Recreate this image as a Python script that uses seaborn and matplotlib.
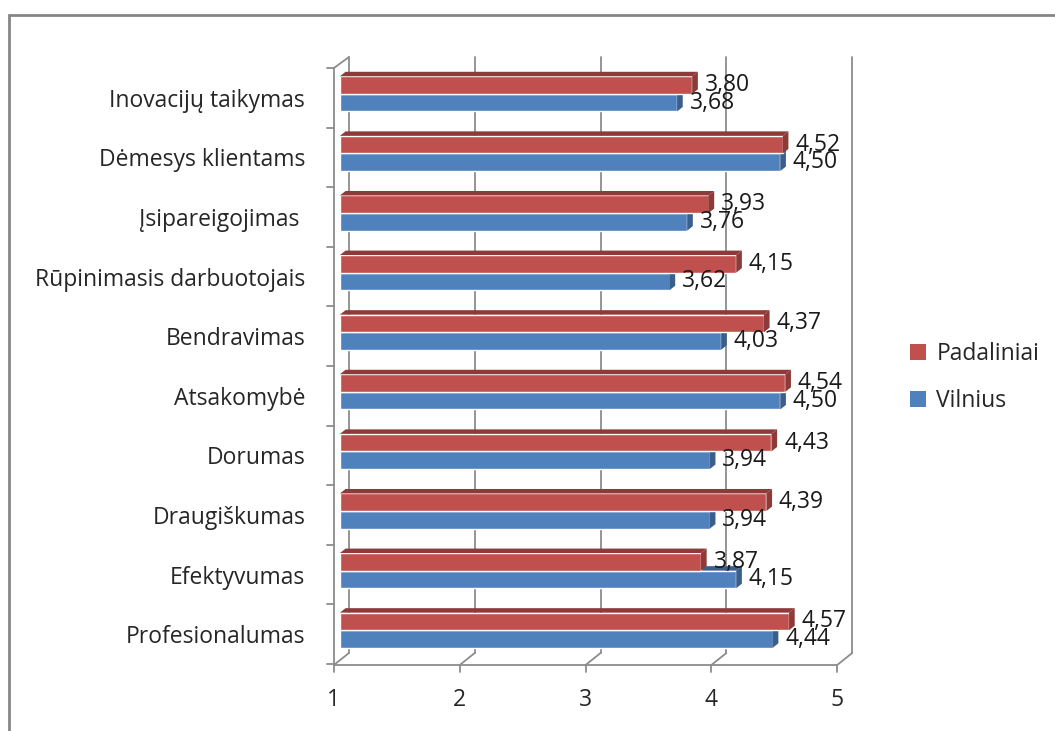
import matplotlib
matplotlib.use("Agg")
import matplotlib.pyplot as plt
import matplotlib.transforms as mtransforms
from matplotlib.patches import Rectangle, Polygon
import seaborn as sns
import pandas as pd
import numpy as np

categories = ["Inovacijų taikymas", "Dėmesys klientams", "Įsipareigojimas ",
              "Rūpinimasis darbuotojais", "Bendravimas", "Atsakomybė",
              "Dorumas", "Draugiškumas", "Efektyvumas", "Profesionalumas"]
padaliniai = [3.80, 4.52, 3.93, 4.15, 4.37, 4.54, 4.43, 4.39, 3.87, 4.57]
vilnius = [3.68, 4.50, 3.76, 3.62, 4.03, 4.50, 3.94, 3.94, 4.15, 4.44]
series = ["Padaliniai", "Vilnius"]
colors = {"Padaliniai": "#C0504D", "Vilnius": "#4F81BD"}
side_colors = {"Padaliniai": "#8E3A38", "Vilnius": "#3A5F8C"}
xticks = [1, 2, 3, 4, 5]

df = pd.DataFrame({
    "kategorija": categories * 2,
    "reiksme": padaliniai + vilnius,
    "grupe": ["Padaliniai"] * len(categories) + ["Vilnius"] * len(categories),
})

sns.set_style("white")
plt.rcParams["font.family"] = ["Open Sans", "DejaVu Sans"]
FS = 16.5
LINE = "#8C8C8C"

fig = plt.figure(figsize=(10.55, 7.31), dpi=100)
ax = fig.add_axes([0.3222, 0.0971, 0.477, 0.8153])

sns.barplot(data=df, y="kategorija", x="reiksme", hue="grupe",
            hue_order=series, order=categories, palette=colors,
            orient="h", width=0.59, saturation=1, ax=ax, legend=False,
            errorbar=None)

ax.set_xlim(1, 5)
ax.set_ylim(len(categories) - 0.5, -0.5)


def shift(px_x, px_y):
    """Offset in pixels (y positive = up)."""
    return mtransforms.ScaledTranslation(px_x / 100, px_y / 100, fig.dpi_scale_trans)


# bar faces: front, top and right-hand side for a shallow depth look
dx = 0.045
dy = 0.075
for grp, container in zip(series, ax.containers):
    z = 3 if grp == "Padaliniai" else 2.5
    for rect in container:
        x1 = rect.get_x() + rect.get_width()
        y0 = rect.get_y()
        h = rect.get_height()
        rect.set_x(1.0)
        rect.set_width(x1 - 1.0)
        rect.set_zorder(z)
        side = Polygon([[x1, y0], [x1 + dx, y0 - dy], [x1 + dx, y0 + h - dy], [x1, y0 + h]],
                       closed=True, facecolor=side_colors[grp], edgecolor="none", zorder=z)
        ax.add_patch(side)
        top = Polygon([[1.0, y0], [1.0 + dx, y0 - dy], [x1 + dx, y0 - dy], [x1, y0]],
                      closed=True, facecolor=side_colors[grp], edgecolor="none", zorder=z)
        ax.add_patch(top)

# value labels with decimal comma
for grp, container, vals in zip(series, ax.containers, [padaliniai, vilnius]):
    for rect, v in zip(container, vals):
        yc = rect.get_y() + rect.get_height() / 2
        ax.text(v + 0.1, yc, f"{v:.2f}".replace(".", ","), fontsize=FS,
                color="#1a1a1a", va="center", ha="left", zorder=5)

# back wall gridlines and floor edges
back = ax.get_xaxis_transform() + shift(9, 7)
front = ax.get_xaxis_transform() + shift(-6, -5)
for t in xticks:
    ax.plot([t, t], [0, 1], transform=back, color=LINE, lw=1.3, zorder=0, clip_on=False)
ax.plot([xticks[0], xticks[-1]], [0, 0], transform=front, color=LINE, lw=1.3,
        zorder=1, clip_on=False)
for t in xticks:
    p0 = front.transform((t, 0))
    p1 = back.transform((t, 0))
    ax.plot([p0[0], p1[0]], [p0[1], p1[1]], transform=None, color=LINE, lw=1.3,
            zorder=1, clip_on=False)
    p2 = (front + shift(0, -7)).transform((t, 0))
    ax.plot([p0[0], p2[0]], [p0[1], p2[1]], transform=None, color=LINE, lw=1.3,
            zorder=1, clip_on=False)

# left wall: front edge, top bevel and category ticks
wall = ax.transAxes + shift(-6, -4)
ax.plot([0, 0], [0, 1], transform=wall, color=LINE, lw=1.3, clip_on=False, zorder=1)
q0 = wall.transform((0, 1))
q1 = back.transform((1, 1))
ax.plot([q0[0], q1[0]], [q0[1], q1[1]], transform=None, color=LINE, lw=1.3,
        clip_on=False, zorder=1)
ywall = ax.get_yaxis_transform() + shift(-6, -4)
for b in np.arange(-0.5, len(categories), 1):
    a0 = ywall.transform((0, b))
    ax.plot([a0[0], a0[0] - 7], [a0[1], a0[1]], transform=None, color=LINE, lw=1.3,
            clip_on=False, zorder=1)

# axes text
ax.set_xticks(xticks)
ax.set_xticklabels([str(t) for t in xticks], fontsize=FS)
ax.tick_params(axis="x", length=0, pad=20)
for lbl in ax.get_xticklabels():
    lbl.set_transform(lbl.get_transform() + shift(-6, 0))
ax.set_yticks(range(len(categories)))
ax.set_yticklabels(categories, fontsize=FS)
ax.tick_params(axis="y", length=0, pad=25)
for lbl in ax.get_yticklabels():
    lbl.set_transform(lbl.get_transform() + shift(0, -4))
ax.set_xlabel("")
ax.set_ylabel("")
ax.grid(False)
for s in ax.spines.values():
    s.set_visible(False)

# legend
handles = [Rectangle((0, 0), 1, 1, facecolor=colors[s], edgecolor="none") for s in series]
fig.legend(handles, series, loc="center left", bbox_to_anchor=(0.843, 0.484),
           frameon=False, fontsize=FS, handlelength=0.7, handleheight=0.7,
           handletextpad=0.45, labelspacing=1.0)

# chart frame
fig.patches.append(Rectangle((9 / 1055, -0.1), 1.2, 1 - 15 / 731 + 0.1,
                             transform=fig.transFigure, fill=False,
                             edgecolor="#868686", linewidth=2))

fig.savefig("out.png", dpi=100)
